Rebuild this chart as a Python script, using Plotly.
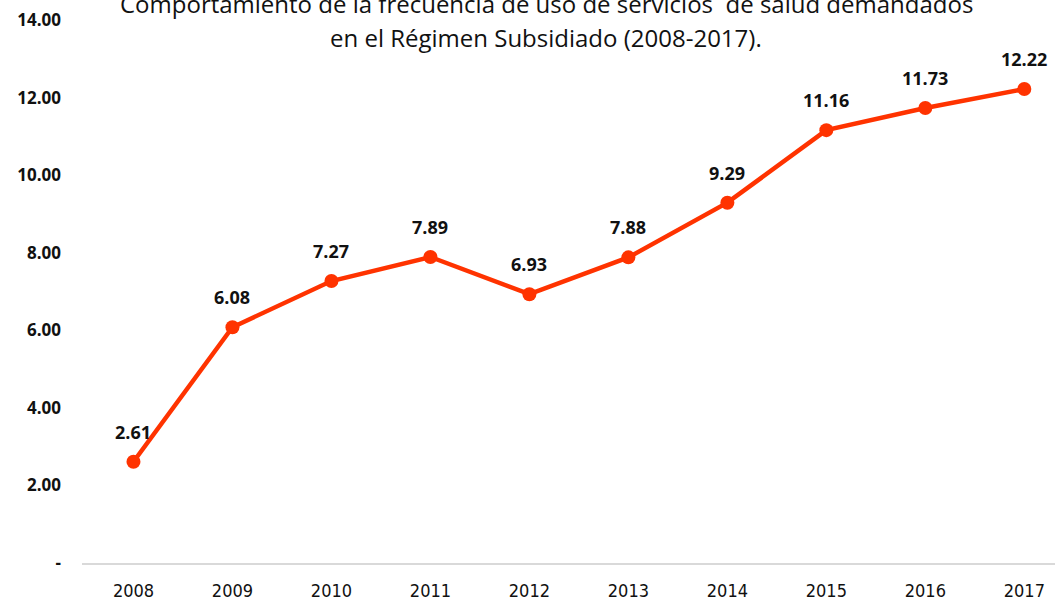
import plotly.graph_objects as go

years = ["2008", "2009", "2010", "2011", "2012", "2013", "2014", "2015", "2016", "2017"]
values = [2.61, 6.08, 7.27, 7.89, 6.93, 7.88, 9.29, 11.16, 11.73, 12.22]
y_ticks = [0, 2, 4, 6, 8, 10, 12, 14]
y_tick_labels = ["-", "2.00", "4.00", "6.00", "8.00", "10.00", "12.00", "14.00"]

LINE = "#FF3300"
NARROW = "DejaVu Sans Condensed, Liberation Sans Narrow, Open Sans, sans-serif"
TITLEF = "Open Sans, Liberation Sans, sans-serif"
BOLD = "Open Sans, Liberation Sans, sans-serif"

fig = go.Figure()
fig.add_trace(go.Scatter(
    x=years, y=values, mode="lines+markers",
    line=dict(color=LINE, width=4.5),
    marker=dict(color=LINE, size=14),
    hoverinfo="skip", showlegend=False,
))

for i, v in enumerate(values):
    fig.add_annotation(x=i, y=v, text=f"<b>{v:.2f}</b>", showarrow=False,
                       yshift=30, font=dict(family=BOLD, size=18, color="#111111"))

fig.add_annotation(xref="paper", yref="paper", x=0.477, y=1.031, yanchor="middle",
                   text="Comportamiento de la frecuencia de uso de servicios  de salud demandados",
                   showarrow=False, font=dict(family=TITLEF, size=24, color="#111111"))
fig.add_annotation(xref="paper", yref="paper", x=0.477, y=0.967, yanchor="middle",
                   text="en el Régimen Subsidiado (2008-2017).",
                   showarrow=False, font=dict(family=TITLEF, size=24, color="#111111"))

fig.update_layout(
    width=1055, height=606,
    margin=dict(l=82, r=0, t=20, b=43),
    paper_bgcolor="white", plot_bgcolor="white",
    xaxis=dict(type="category", range=[-0.52, 9.31], showgrid=False, zeroline=False,
               showline=True, linecolor="#D9D9D9", linewidth=2,
               ticks="", ticklabelstandoff=10,
               tickfont=dict(family=NARROW, size=18, color="#111111")),
    yaxis=dict(range=[0, 14], tickvals=y_ticks, ticktext=y_tick_labels,
               showgrid=False, zeroline=False, showline=False, ticks="",
               ticklabelstandoff=20,
               tickfont=dict(family=BOLD, size=17, color="#111111", weight="bold")),
)

fig.write_html("out.html", config={"displayModeBar": False},
               post_script="document.body.style.margin='0';document.body.style.padding='0';")
